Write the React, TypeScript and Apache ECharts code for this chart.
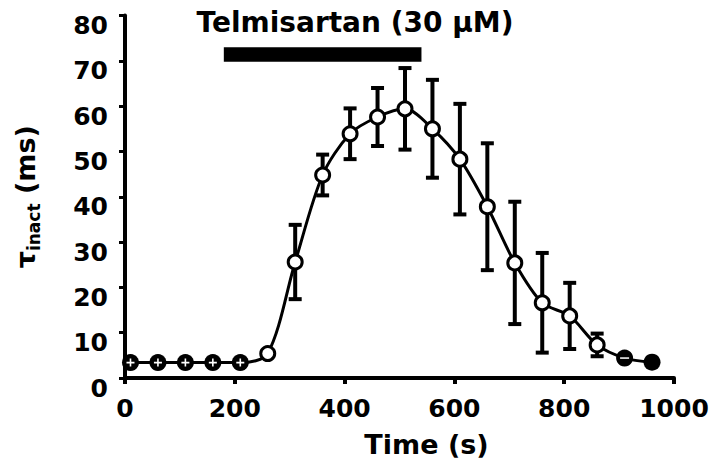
import React, { useEffect, useRef } from "react";
import * as echarts from "echarts";

// Time points (s)
const times = [10, 60, 110, 160, 210, 260, 310, 360, 410, 460, 510, 560, 610, 660, 710, 760, 810, 860, 910, 960];
// Mean tau_inact (ms)
const means = [3.4, 3.4, 3.4, 3.4, 3.4, 5.4, 25.6, 44.8, 53.9, 57.6, 59.4, 55.0, 48.3, 37.8, 25.4, 16.6, 13.7, 7.3, 4.4, 3.5];
// Error (± ms)
const errors = [0, 0, 0, 0, 0, 0, 8.2, 4.5, 5.6, 6.4, 9.0, 10.8, 12.2, 14.0, 13.5, 11.0, 7.3, 2.5, 0, 0];
// Marker style for each point
const markerKinds = [
  "solidCross", "solidCross", "solidCross", "solidCross", "solidCross",
  "open", "open", "open", "open", "open", "open", "open", "open", "open", "open", "open", "open", "open",
  "solidDash", "solid",
];
// Drug application bar (s) and its vertical extent (ms)
const drugStart = 180;
const drugEnd = 540;
const drugLow = 69.8;
const drugHigh = 73;
const drugLabel = "Telmisartan (30 µM)";

const FONT = "DejaVu Sans";

export default function App() {
  const ref = useRef<HTMLDivElement>(null);

  useEffect(() => {
    document.body.style.margin = "0";
    if (!ref.current) return;
    const chart = echarts.init(ref.current, null, { renderer: "svg" });

    const pts = times.map((t, i) => [t, means[i]]);
    const pick = (kinds: string[]) =>
      times.map((t, i) => (kinds.includes(markerKinds[i]) ? [t, means[i]] : null)).filter(Boolean);
    const errData = times
      .map((t, i) => [t, means[i], errors[i]])
      .filter((d) => d[2] > 0);

    const option: any = {
      animation: false,
      backgroundColor: "#fff",
      grid: { left: 125, right: 50, top: 15.5, bottom: 90 },
      graphic: [
        {
          type: "text",
          x: 355,
          y: 22,
          style: {
            text: drugLabel,
            fontFamily: FONT,
            fontWeight: "bold",
            fontSize: 28,
            fill: "#000",
            textAlign: "center",
            textVerticalAlign: "middle",
          },
        },
      ],
      xAxis: {
        type: "value",
        min: 0,
        max: 1000,
        interval: 200,
        offset: 7,
        splitLine: { show: false },
        axisLine: { lineStyle: { color: "#000", width: 4 } },
        axisTick: { length: 6, lineStyle: { color: "#000", width: 4 } },
        axisLabel: {
          color: "#000",
          fontFamily: FONT,
          fontWeight: "bold",
          fontSize: 25,
          margin: 11,
          formatter: (v: number) => String(v),
        },
        name: "Time (s)",
        nameLocation: "middle",
        nameGap: 46,
        nameTextStyle: {
          color: "#000",
          fontFamily: FONT,
          fontWeight: "bold",
          fontSize: 27,
          padding: [0, 0, 0, 54],
        },
      },
      yAxis: {
        type: "value",
        min: 0,
        max: 80,
        interval: 10,
        offset: 3,
        splitLine: { show: false },
        axisLine: { lineStyle: { color: "#000", width: 4 } },
        axisTick: { length: 6, lineStyle: { color: "#000", width: 3 } },
        axisLabel: {
          color: "#000",
          fontFamily: FONT,
          fontWeight: "bold",
          fontSize: 25,
          margin: 14,
          verticalAlign: "top",
          lineHeight: 20,
        },
        name: "{a|τ}{b|inact}{a| (ms)}",
        nameLocation: "middle",
        nameGap: 80,
        nameRotate: 90,
        nameTextStyle: {
          color: "#000",
          rich: {
            a: { fontFamily: FONT, fontWeight: "bold", fontSize: 27, lineHeight: 34, verticalAlign: "middle", color: "#000" },
            b: { fontFamily: FONT, fontWeight: "bold", fontSize: 17, lineHeight: 17, verticalAlign: "bottom", color: "#000" },
          },
        },
      },
      series: [
        {
          type: "custom",
          name: "drug",
          clip: false,
          encode: { x: [0, 1], y: [2, 3] },
          data: [[drugStart, drugEnd, drugLow, drugHigh]],
          renderItem: (params: any, api: any) => {
            const p1 = api.coord([api.value(0), api.value(3)]);
            const p2 = api.coord([api.value(1), api.value(2)]);
            return {
              type: "rect",
              shape: { x: p1[0], y: p1[1], width: p2[0] - p1[0], height: p2[1] - p1[1] },
              style: { fill: "#000" },
            };
          },
          z: 1,
        },
        {
          type: "line",
          data: pts,
          smooth: 0.3,
          symbol: "none",
          lineStyle: { color: "#000", width: 3 },
          z: 2,
        },
        {
          type: "custom",
          name: "err",
          clip: false,
          encode: { x: 0, y: 1 },
          data: errData,
          renderItem: (params: any, api: any) => {
            const t = api.value(0);
            const m = api.value(1);
            const e = api.value(2);
            const top = api.coord([t, m + e]);
            const bot = api.coord([t, m - e]);
            const hw = 6.5;
            const st = { stroke: "#000", lineWidth: 4 };
            return {
              type: "group",
              children: [
                { type: "line", shape: { x1: top[0], y1: top[1], x2: bot[0], y2: bot[1] }, style: st },
                { type: "line", shape: { x1: top[0] - hw, y1: top[1], x2: top[0] + hw, y2: top[1] }, style: st },
                { type: "line", shape: { x1: bot[0] - hw, y1: bot[1], x2: bot[0] + hw, y2: bot[1] }, style: st },
              ],
            };
          },
          z: 3,
        },
        {
          type: "scatter",
          data: pick(["open"]),
          symbol: "circle",
          symbolSize: 14,
          itemStyle: { color: "#fff", borderColor: "#000", borderWidth: 3, opacity: 1 },
          z: 4,
        },
        {
          type: "scatter",
          data: pick(["solidCross", "solidDash", "solid"]),
          symbol: "circle",
          symbolSize: 17,
          itemStyle: { color: "#000", opacity: 1 },
          z: 4,
        },
        {
          type: "scatter",
          data: pick(["solidCross"]),
          symbol: "path://M4,0h2v4h4v2h-4v4h-2v-4h-4v-2h4z",
          symbolSize: 8,
          itemStyle: { color: "#fff", opacity: 1 },
          z: 5,
        },
        {
          type: "scatter",
          data: pick(["solidDash"]),
          symbol: "rect",
          symbolSize: [9, 1.5],
          itemStyle: { color: "#fff", opacity: 1 },
          z: 5,
        },
      ],
    };

    chart.setOption(option);
    return () => chart.dispose();
  }, []);

  return <div ref={ref} style={{ width: 724, height: 468 }} />;
}
